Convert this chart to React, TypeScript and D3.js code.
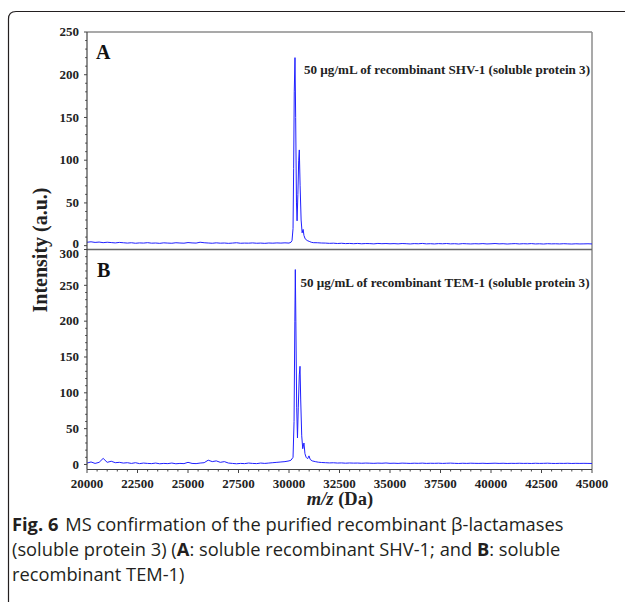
import React from "react";
import * as d3 from "d3";

// m/z axis ticks (Da)
const xTicks = [20000, 22500, 25000, 27500, 30000, 32500, 35000, 37500, 40000, 42500, 45000];
const yTicksA = [0, 50, 100, 150, 200, 250];
const yTicksB = [0, 50, 100, 150, 200, 250, 300];

// baseline sampling of the spectra (Da)
const baseStep = 200;

// Panel A: SHV-1
const shvBaseLeftStart = 20000;
const shvBaseLeft = [
  4, 4.5, 3.8, 4.2, 3.5, 4, 3.6, 3.2, 3.8, 3.4,
  3, 3.4, 2.8, 3.2, 3, 3.5, 2.9, 3.1, 2.7, 3.3,
  3, 2.8, 3.4, 3.1, 2.9, 3.6, 3.2, 3, 4, 3.4,
  3.1, 2.8, 3.3, 2.9, 3.1, 2.7, 3, 3.4, 2.8, 3,
  2.9, 3.2, 2.8, 3, 2.7, 3.1, 2.9, 3.2, 3, 3.3,
];
const shvPeakMz = [30000, 30100, 30150, 30200, 30230, 30260, 30297, 30330, 30370, 30400, 30440, 30480, 30510, 30550, 30600, 30650, 30700, 30740, 30800, 30900, 31000, 31100, 31200];
const shvPeakInt = [3, 4, 6, 20, 90, 180, 220, 150, 50, 29, 60, 100, 112, 70, 30, 15, 19, 12, 8, 6, 5, 4, 3.5];
const shvBaseRightStart = 31400;
const shvBaseRight = [
  3.4, 3.1, 3, 2.7, 2.9, 2.5, 2.8, 2.4, 2.6, 2.3,
  2.6, 2.2, 2.5, 2.4, 2.1, 2.6, 2.3, 2.5, 2.2, 2.4,
  2.1, 2.5, 2.3, 2, 2.4, 2.2, 2.6, 2.1, 2.3, 2,
  2.4, 2.2, 2.5, 2.1, 2.3, 1.9, 2.4, 2.2, 2, 2.3,
  2.1, 2.4, 2, 2.2, 2.5, 2.1, 2.3, 1.9, 2.2, 2.4,
  2, 2.3, 2.1, 2.4, 2, 2.2, 1.9, 2.3, 2.1, 2.2,
  2, 2.3, 2.1, 1.9, 2.2, 2, 2.1, 2.2, 2,
];

// Panel B: TEM-1
const temBaseLeftStart = 20000;
const temBaseLeft = [
  2, 3.5, 1.5, 3, 8.5, 3, 4.5, 2.5, 3, 2,
  2.5, 1.5, 2.5, 1.2, 2, 1.5, 1.2, 2, 1, 1.5,
  1.2, 2, 1, 1.5, 1.2, 3, 1.5, 1.2, 2, 2.5,
  6, 4, 5, 3, 4, 2, 1.5, 1, 1.5, 1.2,
  2, 1.5, 1.2, 2, 1.5, 2, 2.5, 3,
];
const temPeakMz = [29600, 29800, 30000, 30100, 30200, 30250, 30290, 30313, 30340, 30380, 30420, 30460, 30510, 30545, 30580, 30630, 30680, 30740, 30790, 30850, 30920, 30990, 31050, 31150, 31300, 31450];
const temPeakInt = [3.5, 4, 5, 6, 10, 60, 200, 272, 200, 80, 37, 80, 125, 137, 90, 40, 22, 30, 15, 10, 8, 12, 7, 5, 4, 3.2];
const temBaseRightStart = 31600;
const temBaseRight = [
  2.8, 2.5, 2.2, 2.4, 2, 2.2, 1.8, 2.1, 1.9, 2,
  1.7, 2, 1.8, 1.6, 1.9, 1.7, 2.1, 1.6, 1.8, 1.5,
  1.9, 1.7, 1.5, 1.8, 1.6, 1.9, 1.5, 1.7, 1.6, 1.8,
  1.5, 1.7, 1.9, 1.6, 1.4, 1.7, 1.5, 1.8, 1.6, 1.5,
  1.7, 1.4, 1.6, 1.8, 1.5, 1.7, 1.4, 1.6, 1.5, 1.7,
  1.5, 1.6, 1.4, 1.7, 1.5, 1.6, 1.8, 1.5, 1.4, 1.6,
  1.5, 1.7, 1.4, 1.6, 1.5, 1.6, 1.5, 1.4,
];

type Pt = [number, number];

// join baseline stretches and the peak into one trace
const buildTrace = (
  leftStart: number, left: number[],
  peakMz: number[], peakInt: number[],
  rightStart: number, right: number[]
): Pt[] => [
  ...left.map((v, i) => [leftStart + i * baseStep, v] as Pt),
  ...peakMz.map((m, i) => [m, peakInt[i]] as Pt),
  ...right.map((v, i) => [rightStart + i * baseStep, v] as Pt),
];

const shvTrace = buildTrace(shvBaseLeftStart, shvBaseLeft, shvPeakMz, shvPeakInt, shvBaseRightStart, shvBaseRight);
const temTrace = buildTrace(temBaseLeftStart, temBaseLeft, temPeakMz, temPeakInt, temBaseRightStart, temBaseRight);

const serif = "'Liberation Serif', 'Times New Roman', serif";
const sans = "'Open Sans', 'Noto Sans', sans-serif";

const App = () => {
  const plotLeft = 87;
  const plotRight = 592;
  const topA = 32;
  const split = 249.5;
  const bottomB = 469.5;

  const x = d3.scaleLinear().domain([20000, 45000]).range([plotLeft, plotRight]);
  const yA = d3.scaleLinear().domain([-4.5, 250]).range([split, topA]);
  const yB = d3.scaleLinear().domain([-7, 300]).range([bottomB, split]);

  const lineA = d3.line<Pt>().x((d) => x(d[0])).y((d) => yA(d[1]));
  const lineB = d3.line<Pt>().x((d) => x(d[0])).y((d) => yB(d[1]));

  const minorX = d3.range(20000, 45001, 500).filter((v) => v % 2500 !== 0);
  const minorA = d3.range(0, 251, 10).filter((v) => v % 50 !== 0);
  const minorB = d3.range(0, 301, 10).filter((v) => v % 50 !== 0);

  const axisColor = "#444";
  const frameColor = "#8c8c8c";
  const blue = "#2020ff";

  return (
    <div style={{ position: "absolute", left: 0, top: 0 }}>
      <svg width={625} height={602} style={{ display: "block", background: "#fff" }}>
        {/* figure box */}
        <path d="M8.5,602 L8.5,19 Q8.5,11.5 16,11.5 L625,11.5" fill="none" stroke="#231f20" strokeWidth={1.2} />

        {/* panel frames */}
        <line x1={plotLeft} x2={plotRight} y1={topA} y2={topA} stroke={frameColor} strokeWidth={1.5} />
        <line x1={plotRight} x2={plotRight} y1={topA} y2={bottomB} stroke={frameColor} strokeWidth={1.5} />
        <line x1={plotLeft} x2={plotRight} y1={split} y2={split} stroke="#666" strokeWidth={1.3} />

        {/* traces */}
        <path d={lineA(shvTrace) || ""} fill="none" stroke={blue} strokeWidth={1} />
        <path d={lineB(temTrace) || ""} fill="none" stroke={blue} strokeWidth={1} />

        {/* y axis */}
        <line x1={plotLeft} x2={plotLeft} y1={topA} y2={bottomB} stroke={axisColor} strokeWidth={1.2} />
        {yTicksA.map((t) => (
          <g key={"a" + t}>
            <line x1={plotLeft - 3} x2={plotLeft} y1={yA(t)} y2={yA(t)} stroke={axisColor} />
            <text x={79} y={yA(t)} dy={t === 0 ? "0.2em" : "0.33em"} textAnchor="end" fontFamily={serif} fontWeight="bold" fontSize={13} fill="#222">
              {t}
            </text>
          </g>
        ))}
        {minorA.map((t) => (
          <line key={"ma" + t} x1={plotLeft - 1.8} x2={plotLeft} y1={yA(t)} y2={yA(t)} stroke={axisColor} />
        ))}
        {yTicksB.map((t) => (
          <g key={"b" + t}>
            <line x1={plotLeft - 3} x2={plotLeft} y1={yB(t)} y2={yB(t)} stroke={axisColor} />
            <text x={79} y={yB(t)} dy={t === 300 ? "0.62em" : "0.33em"} textAnchor="end" fontFamily={serif} fontWeight="bold" fontSize={13} fill="#222">
              {t}
            </text>
          </g>
        ))}
        {minorB.map((t) => (
          <line key={"mb" + t} x1={plotLeft - 1.8} x2={plotLeft} y1={yB(t)} y2={yB(t)} stroke={axisColor} />
        ))}

        {/* x axis */}
        <line x1={plotLeft} x2={plotRight} y1={bottomB} y2={bottomB} stroke={axisColor} strokeWidth={1.2} />
        {xTicks.map((t) => (
          <g key={"x" + t}>
            <line x1={x(t)} x2={x(t)} y1={bottomB} y2={bottomB + 3.5} stroke={axisColor} />
            <text x={x(t)} y={487.5} textAnchor="middle" fontFamily={serif} fontWeight="bold" fontSize={13} fill="#222">
              {t}
            </text>
          </g>
        ))}
        {minorX.map((t) => (
          <line key={"mx" + t} x1={x(t)} x2={x(t)} y1={bottomB} y2={bottomB + 2} stroke={axisColor} />
        ))}

        {/* panel letters and notes */}
        <text x={96} y={58.5} fontFamily={serif} fontWeight="bold" fontSize={20} fill="#111">A</text>
        <text x={97} y={276.5} fontFamily={serif} fontWeight="bold" fontSize={20} fill="#111">B</text>
        <text x={304} y={74} fontFamily={serif} fontWeight="bold" fontSize={12.5} fill="#222" textLength={286} lengthAdjust="spacingAndGlyphs">
          50 µg/mL of recombinant SHV-1 (soluble protein 3)
        </text>
        <text x={300.5} y={287} fontFamily={serif} fontWeight="bold" fontSize={12.5} fill="#222" textLength={289} lengthAdjust="spacingAndGlyphs">
          50 µg/mL of recombinant TEM-1 (soluble protein 3)
        </text>

        {/* axis titles */}
        <text transform="translate(47,250) rotate(-90)" textAnchor="middle" fontFamily={serif} fontWeight="bold" fontSize={20} fill="#222">
          Intensity (a.u.)
        </text>
        <text x={340} y={505} textAnchor="middle" fontFamily={serif} fontWeight="bold" fontSize={18.5} fill="#222">
          <tspan fontStyle="italic">m/z</tspan> (Da)
        </text>

        {/* caption */}
        <g fontFamily={sans} fontSize={18.3} fill="#231f20">
          <text x={12} y={531}>
            <tspan fontWeight="bold">Fig. 6</tspan>
            <tspan dx={7}>MS confirmation of the purified recombinant β-lactamases</tspan>
          </text>
          <text x={12} y={556}>
            (soluble protein 3) (<tspan fontWeight="bold">A</tspan>: soluble recombinant SHV-1; and <tspan fontWeight="bold">B</tspan>: soluble
          </text>
          <text x={12} y={581}>recombinant TEM-1)</text>
        </g>
      </svg>
    </div>
  );
};

export default App;
